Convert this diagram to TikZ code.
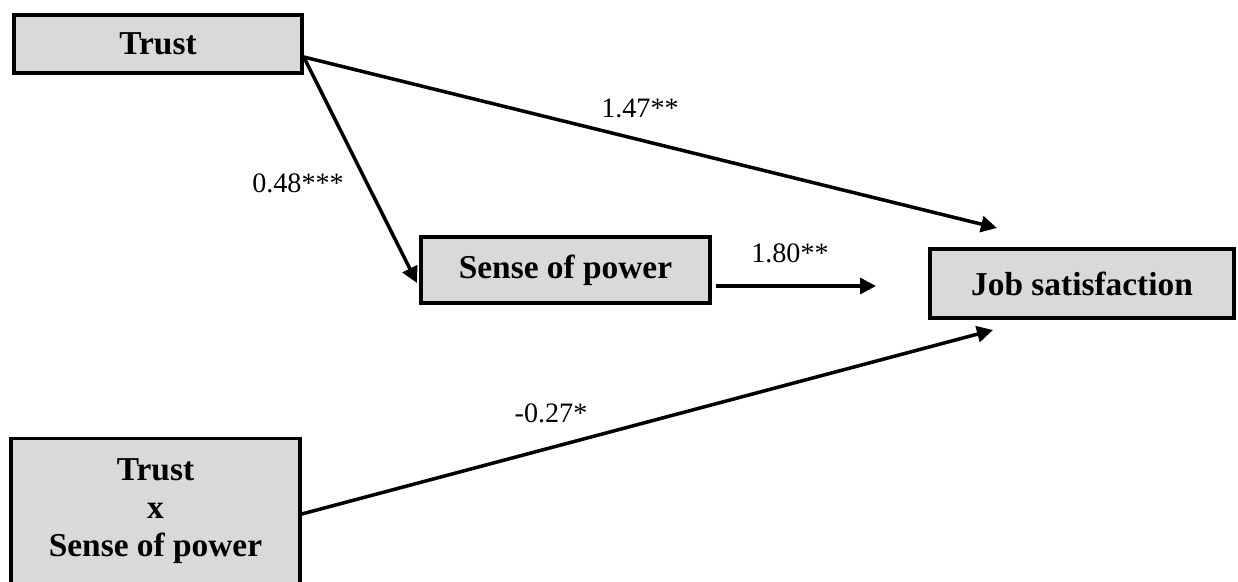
\documentclass[tikz,border=0pt]{standalone}
\usepackage{fontspec}
\setmainfont{Liberation Serif}
\usetikzlibrary{arrows.meta, positioning, calc}
\definecolor{boxgray}{HTML}{D9D9D9}
\tikzset{
	varbox/.style={draw, line width=2pt, fill=boxgray, align=center, inner sep=0pt, font=\fontsize{19}{21.5}\selectfont\bfseries}
}
\tikzset{
	coeftext/.style={font=\fontsize{16}{19}\selectfont}
}

\begin{document}
\begin{tikzpicture}[>={Triangle[length=3.2mm, width=3.2mm]}]
      \useasboundingbox (0,0) rectangle (24.76,-11.64);
      \node[varbox, minimum width=5.76cm, minimum height=1.16cm] (T) at (3.16,-0.88) {Trust};
      \node[varbox, minimum width=5.78cm, minimum height=1.32cm] (S) at (11.31,-5.40) {Sense of power};
      \node[varbox, minimum width=6.08cm, minimum height=1.38cm] (J) at (21.64,-5.67) {Job satisfaction};
      \node[varbox, minimum width=5.78cm, minimum height=2.9cm] (IX) at (3.11,-10.22) {Trust\\x\\Sense of power};
      \coordinate (Jtop) at (19.94,-4.56);
      \coordinate (Sin) at (8.34,-5.66);
      \coordinate (Jmid) at (17.52,-5.72);
      \coordinate (Jlow) at (19.86,-6.60);
      \path[line width=2pt, ->] ([yshift=-0.26cm]T.east) edge (Jtop);
      \path[line width=2pt, ->] ([yshift=-0.26cm]T.east) edge (Sin);
      \path[line width=2pt, ->] ([xshift=0.08cm, yshift=-0.32cm]S.east) edge (Jmid);
      \path[line width=2pt, ->] ([yshift=-0.06cm]IX.east) edge (Jlow);
      \node[coeftext] (c1) at (12.8,-2.16) {1.47**};
      \node[coeftext] (c2) at (5.96,-3.66) {0.48***};
      \node[coeftext] (c3) at (15.8,-5.06) {1.80**};
      \node[coeftext] (c4) at (11.02,-8.26) {-0.27*};
    \end{tikzpicture}
\end{document}
